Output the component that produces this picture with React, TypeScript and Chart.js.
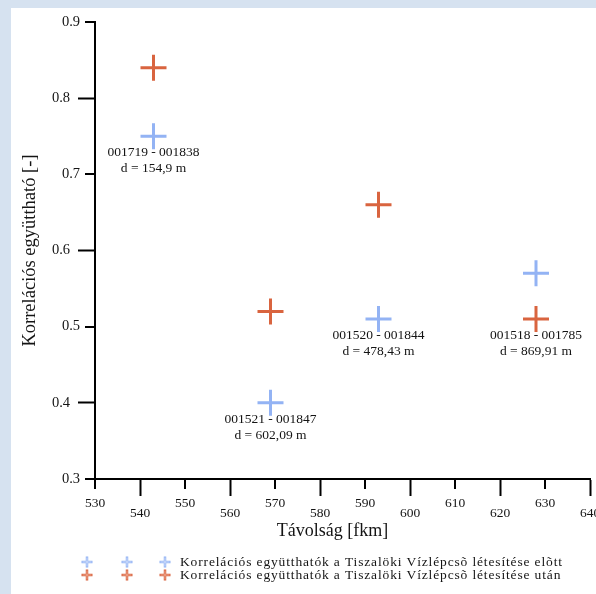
import React, { useEffect, useRef } from 'react';
import { Chart, registerables } from 'chart.js';

Chart.register(...registerables);

// ---- data ----
const distanceBefore = [543, 569, 593, 628];
const corrBefore = [0.75, 0.4, 0.51, 0.57];
const distanceAfter = [543, 569, 593, 628];
const corrAfter = [0.84, 0.52, 0.66, 0.51];

const labelDistance = [543, 569, 593, 628];
const labelCorr = [0.75, 0.4, 0.51, 0.51];
const labelPairs = ['001719 - 001838', '001521 - 001847', '001520 - 001844', '001518 - 001785'];
const labelLengths = ['d = 154,9 m', 'd = 602,09 m', 'd = 478,43 m', 'd = 869,91 m'];

const xMin = 530;
const xMax = 640;
const xStep = 10;
const yMin = 0.3;
const yMax = 0.9;
const yStep = 0.1;

const xTitle = 'Távolság [fkm]';
const yTitle = 'Korrelációs együttható [-]';
const legendLabels = [
  'Korrelációs együtthatók a Tiszalöki Vízlépcsõ létesítése elõtt',
  'Korrelációs együtthatók a Tiszalöki Vízlépcsõ létesítése után',
];

// ---- styles ----
const BLUE = '#93b3f4';
const BLUE_CORE = '#dbe6fd';
const RED = '#d9643f';
const RED_CORE = '#f4b7a3';
const TEXT = '#141414';
const FONT = '"Liberation Serif", "Times New Roman", serif';

const toPts = (xs: number[], ys: number[]) => xs.map((x, i) => ({ x, y: ys[i] }));

const drawCross = (ctx: CanvasRenderingContext2D, x: number, y: number, r: number, c: string, core: string) => {
  ctx.save();
  ctx.lineCap = 'butt';
  ctx.strokeStyle = c;
  ctx.lineWidth = 2.5;
  ctx.beginPath();
  ctx.moveTo(x - r, y);
  ctx.lineTo(x + r, y);
  ctx.moveTo(x, y - r);
  ctx.lineTo(x, y + r);
  ctx.stroke();
  ctx.strokeStyle = core;
  ctx.lineWidth = 0.8;
  ctx.beginPath();
  ctx.moveTo(x - r + 1, y);
  ctx.lineTo(x + r - 1, y);
  ctx.moveTo(x, y - r + 1);
  ctx.lineTo(x, y + r - 1);
  ctx.stroke();
  ctx.restore();
};

const isLongX = (v: number) => Math.round((v - xMin) / xStep) % 2 === 1;
const isLongY = (v: number) => Math.round(v * 10) % 2 === 0;

const overlayPlugin = {
  id: 'overlay',
  afterDraw(chart: any) {
    const { ctx, chartArea, scales } = chart;
    const xs = scales.x;
    const ys = scales.y;
    ctx.save();

    // short tick marks (long ones are drawn by the axes)
    ctx.strokeStyle = '#000';
    ctx.lineWidth = 2;
    ctx.beginPath();
    xs.ticks.forEach((t: any) => {
      if (isLongX(t.value)) return;
      const px = Math.round(xs.getPixelForValue(t.value));
      ctx.moveTo(px, chartArea.bottom);
      ctx.lineTo(px, chartArea.bottom + 10);
    });
    ys.ticks.forEach((t: any) => {
      if (isLongY(t.value)) return;
      const py = Math.round(ys.getPixelForValue(t.value));
      ctx.moveTo(chartArea.left, py);
      ctx.lineTo(chartArea.left - 10, py);
    });
    ctx.stroke();

    ctx.fillStyle = TEXT;

    // y tick labels (staggered)
    ctx.font = `14.5px ${FONT}`;
    ctx.textAlign = 'right';
    ctx.textBaseline = 'middle';
    ys.ticks.forEach((t: any) => {
      const py = ys.getPixelForValue(t.value);
      const xr = chartArea.left - (isLongY(t.value) ? 25 : 15);
      ctx.fillText(Number(t.value).toFixed(1), xr, py);
    });

    // annotations
    ctx.font = `13.5px ${FONT}`;
    ctx.textAlign = 'center';
    ctx.textBaseline = 'middle';
    labelDistance.forEach((d, i) => {
      const px = xs.getPixelForValue(d);
      const py = ys.getPixelForValue(labelCorr[i]);
      ctx.fillText(labelPairs[i], px, py + 16.5);
      ctx.fillText(labelLengths[i], px, py + 32.5);
    });

    // axis titles
    ctx.font = `18px ${FONT}`;
    ctx.fillText(xTitle, (chartArea.left + chartArea.right) / 2 - 10, chartArea.bottom + 52);
    ctx.save();
    ctx.font = `18.5px ${FONT}`;
    ctx.translate(19, (chartArea.top + chartArea.bottom) / 2);
    ctx.rotate(-Math.PI / 2);
    ctx.fillText(yTitle, 0, 0);
    ctx.restore();

    // legend
    const rows = [
      { y: chartArea.bottom + 83, c: BLUE, core: BLUE_CORE, text: legendLabels[0] },
      { y: chartArea.bottom + 96, c: RED, core: RED_CORE, text: legendLabels[1] },
    ];
    ctx.font = `13.5px ${FONT}`;
    (ctx as any).letterSpacing = '0.85px';
    ctx.textAlign = 'left';
    rows.forEach((r) => {
      [76, 116, 154].forEach((mx) => drawCross(ctx, mx, r.y, 5.5, r.c, r.core));
      ctx.fillText(r.text, 169, r.y);
    });
    (ctx as any).letterSpacing = '0px';
    ctx.restore();
  },
};

export default function App() {
  const ref = useRef<HTMLCanvasElement | null>(null);

  useEffect(() => {
    if (!ref.current) return;
    const tickFont = { family: FONT, size: 13.5, lineHeight: '10px' };
    const crossSet = (label: string, xs: number[], ys: number[], c: string, r: number, w: number) => ({
      label,
      data: toPts(xs, ys),
      pointStyle: 'cross',
      pointRadius: r,
      pointBorderWidth: w,
      borderColor: c,
      backgroundColor: c,
    });
    const chart = new Chart(ref.current, {
      type: 'scatter',
      data: {
        datasets: [
          crossSet('before', distanceBefore, corrBefore, BLUE, 13, 3),
          crossSet('before-core', distanceBefore, corrBefore, BLUE_CORE, 12, 1),
          crossSet('after', distanceAfter, corrAfter, RED, 13, 3),
          crossSet('after-core', distanceAfter, corrAfter, RED_CORE, 12, 1),
        ] as any,
      },
      options: {
        animation: false,
        responsive: false,
        devicePixelRatio: 1,
        layout: { autoPadding: false, padding: { left: 0, right: 6, top: 14, bottom: 75 } } as any,
        plugins: { legend: { display: false }, tooltip: { enabled: false } },
        scales: {
          x: {
            type: 'linear',
            position: 'bottom',
            min: xMin,
            max: xMax,
            border: { display: true, color: '#000', width: 2 },
            grid: {
              display: true,
              drawOnChartArea: false,
              drawTicks: true,
              tickLength: 17,
              tickWidth: 2,
              tickColor: (c: any) => (c.tick && isLongX(c.tick.value) ? '#000' : 'rgba(0,0,0,0)'),
            } as any,
            ticks: {
              stepSize: xStep,
              autoSkip: false,
              maxRotation: 0,
              minRotation: 0,
              padding: 2,
              color: TEXT,
              font: tickFont as any,
              callback: (v: any) => (isLongX(Number(v)) ? ['', String(v)] : String(v)),
            },
            afterFit: (s: any) => {
              s.height = 40;
              s.paddingLeft = 0;
              s.paddingRight = 0;
            },
          },
          y: {
            type: 'linear',
            position: 'left',
            min: yMin,
            max: yMax,
            border: { display: true, color: '#000', width: 2 },
            grid: {
              display: true,
              drawOnChartArea: false,
              drawTicks: true,
              tickLength: 17,
              tickWidth: 2,
              tickColor: (c: any) => (c.tick && isLongY(c.tick.value) ? '#000' : 'rgba(0,0,0,0)'),
            } as any,
            ticks: {
              stepSize: yStep,
              color: 'rgba(0,0,0,0)',
              font: { family: FONT, size: 13.5 },
              callback: (v: any) => Number(v).toFixed(1),
            },
            afterFit: (s: any) => {
              s.width = 84;
              s.paddingTop = 0;
              s.paddingBottom = 0;
            },
          },
        },
      },
      plugins: [overlayPlugin],
    });
    return () => chart.destroy();
  }, []);

  return (
    <div style={{ position: 'fixed', left: 0, top: 0, width: 596, height: 594, background: '#d6e2f0', overflow: 'hidden' }}>
      <canvas
        ref={ref}
        width={585}
        height={586}
        style={{ position: 'absolute', left: 11, top: 8, width: 585, height: 586, background: '#fff', display: 'block' }}
      />
    </div>
  );
}
